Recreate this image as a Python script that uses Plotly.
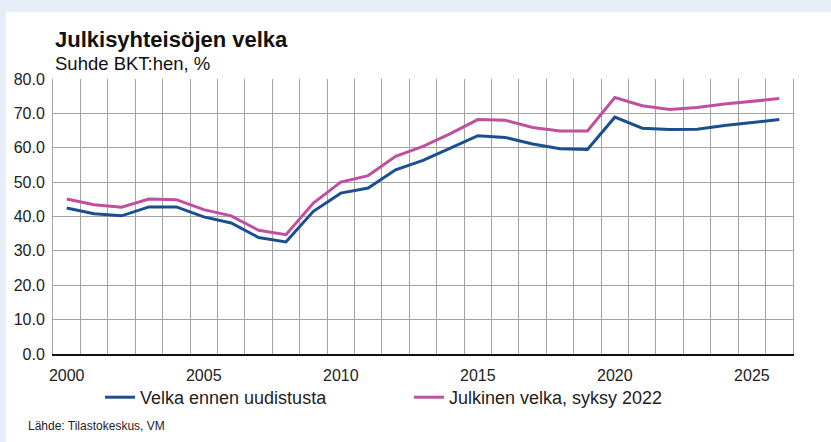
import plotly.graph_objects as go

years = list(range(2000, 2027))
velka_ennen = [42.5, 40.8, 40.2, 42.8, 42.8, 39.9, 38.1, 33.9, 32.6, 41.5,
               46.8, 48.3, 53.6, 56.3, 59.9, 63.5, 63.0, 61.1, 59.7, 59.5,
               68.9, 65.7, 65.3, 65.4, 66.5, 67.4, 68.2]
julkinen_velka = [45.1, 43.4, 42.7, 45.1, 44.9, 42.0, 40.2, 36.0, 34.7, 43.9,
                  50.0, 51.9, 57.5, 60.4, 64.1, 68.2, 68.0, 65.9, 64.9, 64.9,
                  74.6, 72.2, 71.1, 71.7, 72.7, 73.6, 74.3]
x_ticks = [2000, 2005, 2010, 2015, 2020, 2025]
y_ticks = [0, 10, 20, 30, 40, 50, 60, 70, 80]
series_names = ["Velka ennen uudistusta", "Julkinen velka, syksy 2022"]

W, H = 831, 442
L, R, T, B = 53, 38, 79, 88
pw, ph = W - L - R, H - T - B

def px_x(p):
    return (p - L) / pw

def px_y(p):
    return (H - B - p) / ph

FONT = "Liberation Sans, Arial, sans-serif"
BLUE = "#1a4f8f"
PINK = "#c0509f"
GRID = "#a3a3a3"

fig = go.Figure()
fig.add_trace(go.Scatter(x=years, y=velka_ennen, mode="lines", name=series_names[0],
                         line=dict(color=BLUE, width=3)))
fig.add_trace(go.Scatter(x=years, y=julkinen_velka, mode="lines", name=series_names[1],
                         line=dict(color=PINK, width=3)))

fig.update_layout(
    width=W, height=H,
    margin=dict(l=L, r=R, t=T, b=B, autoexpand=False),
    paper_bgcolor="#e8eef8",
    plot_bgcolor="white",
    font=dict(family=FONT, size=16, color="#222222"),
    showlegend=True,
    legend=dict(orientation="h", x=px_x(100), y=px_y(379), xanchor="left", yanchor="top",
                font=dict(size=18, color="#222222"), bgcolor="rgba(0,0,0,0)",
                itemwidth=30, entrywidth=264, entrywidthmode="pixels",
                tracegroupgap=0),
    shapes=[dict(type="rect", xref="paper", yref="paper", layer="below",
                 x0=px_x(6), x1=px_x(W + 5), y0=px_y(12), y1=px_y(H + 5),
                 fillcolor="white", line=dict(width=0))],
    annotations=[
        dict(text="<b>Julkisyhteisöjen velka</b>", xref="paper", yref="paper",
             x=px_x(53), y=px_y(40), xanchor="left", yanchor="middle", showarrow=False,
             font=dict(size=22, color="#111111")),
        dict(text="Suhde BKT:hen, %", xref="paper", yref="paper",
             x=px_x(53), y=px_y(63), xanchor="left", yanchor="middle", showarrow=False,
             font=dict(size=18.5, color="#111111")),
        dict(text="Lähde: Tilastokeskus, VM", xref="paper", yref="paper",
             x=px_x(26), y=px_y(426), xanchor="left", yanchor="middle", showarrow=False,
             font=dict(size=12, color="#222222")),
    ],
)

fig.update_xaxes(
    range=[1999.5, 2026.5], tickmode="array", tickvals=x_ticks,
    ticktext=[str(v) for v in x_ticks], ticks="", showgrid=False,
    showline=True, linecolor="#111111", linewidth=1.5,
    minor=dict(tickmode="array", tickvals=[y + 0.5 for y in years[:-1]],
               showgrid=True, gridcolor=GRID, gridwidth=1, ticks=""),
    zeroline=False, fixedrange=True, ticklabelstandoff=6,
)
fig.update_yaxes(
    range=[0, 80], tickmode="array", tickvals=y_ticks,
    ticktext=[f"{v:.1f}" for v in y_ticks], ticks="", showgrid=True,
    gridcolor=GRID, gridwidth=1, showline=True, linecolor=GRID, linewidth=1,
    mirror=True, zeroline=False, fixedrange=True, ticklabelstandoff=4,
)

fig.write_html("out.html", config={"displayModeBar": False},
               post_script="document.body.style.margin='0';document.body.style.background='#e8eef8';")
